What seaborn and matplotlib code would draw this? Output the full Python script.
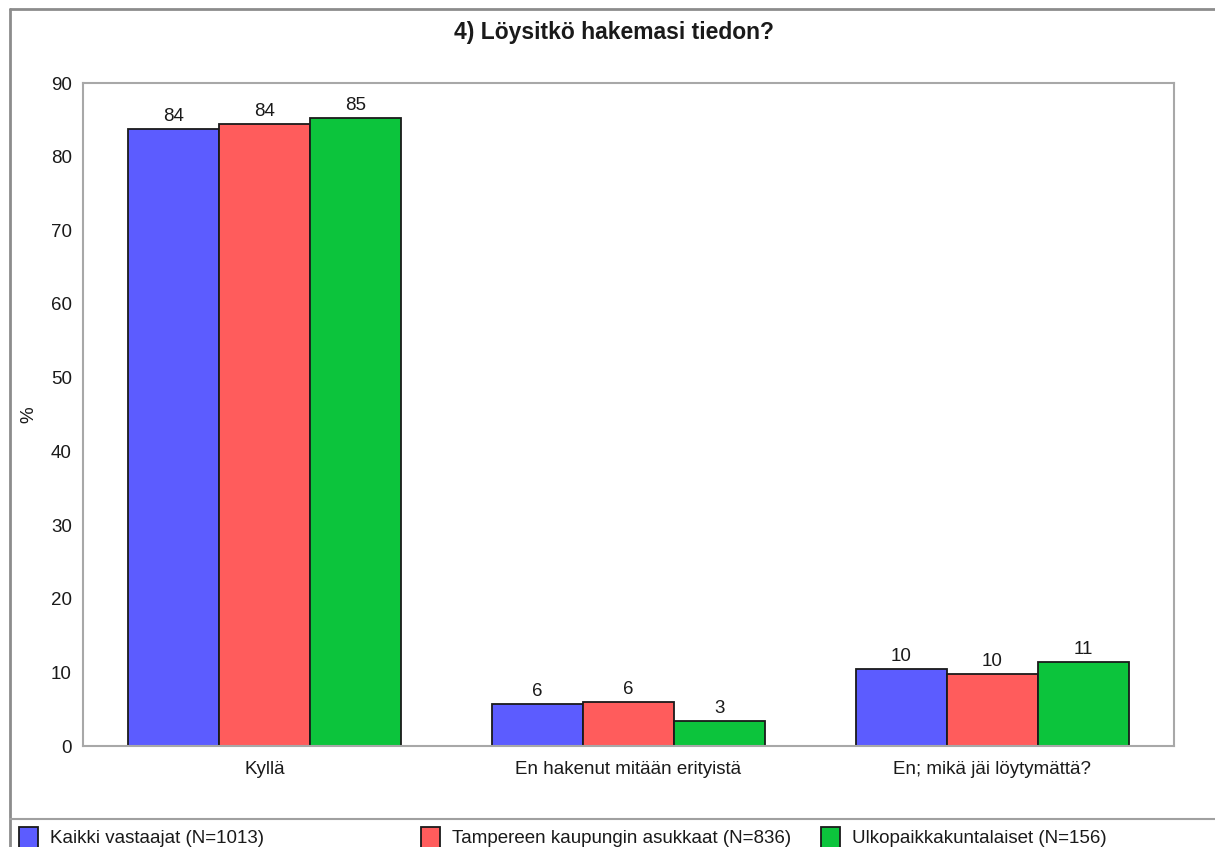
import matplotlib
matplotlib.use("Agg")
import matplotlib.pyplot as plt
from matplotlib.lines import Line2D
import pandas as pd
import seaborn as sns

# Answer categories and respondent groups
categories = ["Kyllä", "En hakenut mitään erityistä", "En; mikä jäi löytymättä?"]
groups = [
    "Kaikki vastaajat (N=1013)",
    "Tampereen kaupungin asukkaat (N=836)",
    "Ulkopaikkakuntalaiset (N=156)",
]

# Share of respondents (%) per category for each group
kaikki = [83.8, 5.7, 10.4]
tampere = [84.4, 6.0, 9.8]
ulko = [85.2, 3.4, 11.4]

y_ticks = [0, 10, 20, 30, 40, 50, 60, 70, 80, 90]

colors = ["#5C5CFF", "#FF5C5C", "#0CC43C"]

rows = []
for grp, vals in zip(groups, [kaikki, tampere, ulko]):
    for cat, v in zip(categories, vals):
        rows.append({"Vastaus": cat, "Ryhmä": grp, "Osuus": v})
df = pd.DataFrame(rows)

sns.set_style("white")
plt.rcParams["font.family"] = ["Liberation Sans", "DejaVu Sans"]
text_color = "#1a1a1a"
fs = 13.5

W, H = 1215, 847
fig = plt.figure(figsize=(W / 100, H / 100), dpi=100)
ax = fig.add_axes([83 / W, (H - 746) / H, 1091 / W, 663 / H])

sns.barplot(
    data=df, x="Vastaus", y="Osuus", hue="Ryhmä",
    order=categories, hue_order=groups, palette=colors,
    width=0.75, gap=0, edgecolor="#1a1a1a", linewidth=1.3,
    saturation=1, errorbar=None, legend=False, ax=ax,
)

for cont in ax.containers:
    ax.bar_label(cont, fmt="%.0f", padding=3, fontsize=fs, color=text_color)

ax.set_xlim(-0.5, 2.5)
ax.set_ylim(0, 90)
ax.set_yticks(y_ticks)
ax.set_yticklabels([str(t) for t in y_ticks])
ax.tick_params(axis="both", length=0, labelsize=fs, labelcolor=text_color)
ax.tick_params(axis="y", pad=8)
ax.tick_params(axis="x", pad=11)
ax.set_xlabel("")
ax.set_ylabel("%", fontsize=fs, color=text_color)
ax.yaxis.set_label_coords(-0.042, 0.5)
for s in ax.spines.values():
    s.set_color("#A8A8A8")
    s.set_linewidth(1.5)

fig.text(614 / W, 1 - 32 / H, "4) Löysitkö hakemasi tiedon?",
         ha="center", va="center", fontsize=16.5, fontweight="bold", color=text_color)

# Outer frame and separator above the legend strip
frame_kw = dict(color="#8C8C8C", linewidth=2, transform=fig.transFigure)
fig.add_artist(Line2D([10 / W, 1], [1 - 9.5 / H, 1 - 9.5 / H], **frame_kw))
fig.add_artist(Line2D([10.5 / W, 10.5 / W], [0, 1 - 9.5 / H], **frame_kw))
fig.add_artist(Line2D([10 / W, 1], [1 - 819 / H, 1 - 819 / H],
                      color="#A0A0A0", linewidth=1.5, transform=fig.transFigure))

# Legend entries on a fixed grid along the bottom strip
legend_x = [13, 415, 815]
for cont, grp, x0 in zip(ax.containers, groups, legend_x):
    fig.legend([cont.patches[0]], [grp], loc="upper left",
               bbox_to_anchor=(x0 / W, 1 - 821 / H), bbox_transform=fig.transFigure,
               frameon=False, fontsize=fs, handlelength=1.05, handleheight=1.35,
               handletextpad=0.6, borderaxespad=0, borderpad=0.3,
               labelcolor=text_color)

fig.savefig("out.png", dpi=100, facecolor="white")
